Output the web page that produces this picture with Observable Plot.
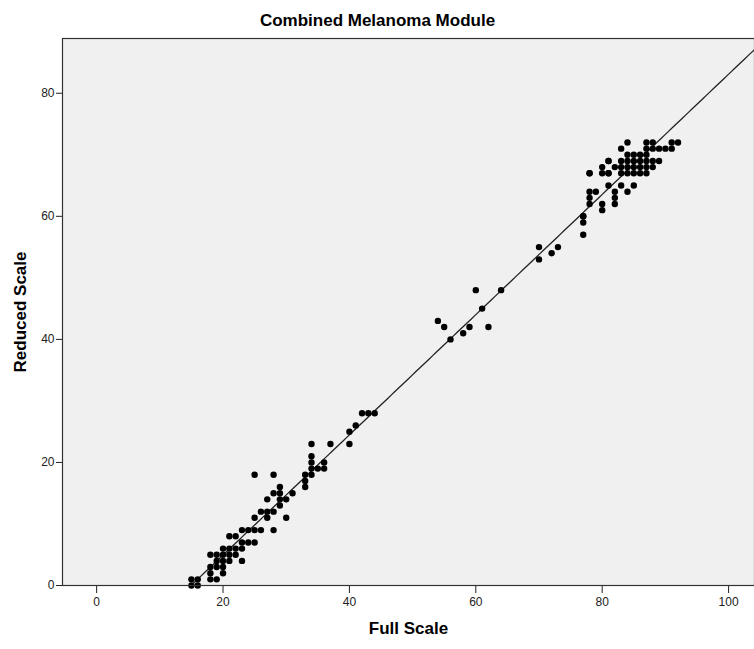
<!DOCTYPE html>
<html>
<head>
<meta charset="utf-8">
<script src="https://cdn.jsdelivr.net/npm/d3@7"></script>
<script src="https://cdn.jsdelivr.net/npm/@observablehq/plot@0.6"></script>
<style>
  html, body { margin: 0; padding: 0; background: #ffffff; }
  #chart svg { display: block; }
</style>
</head>
<body>
<div id="chart"></div>
<script>
const titleText = "Combined Melanoma Module";
const xLabel = "Full Scale";
const yLabel = "Reduced Scale";
const xTicks = [0, 20, 40, 60, 80, 100];
const yTicks = [0, 20, 40, 60, 80];

// Full Scale scores
const fullScale = [
  15, 15, 16, 16,
  18, 18, 18, 18,
  19, 19, 19, 19,
  20, 20, 20, 20, 20,
  21, 21, 21, 21,
  22, 22, 22,
  23, 23, 23, 23,
  24, 24,
  25, 25, 25, 25,
  26, 26,
  27, 27, 27,
  28, 28, 28, 28,
  29, 29, 29, 29,
  30, 30,
  31,
  33, 33, 33,
  34, 34, 34, 34, 34,
  35,
  36, 36,
  37,
  40, 40,
  41,
  42, 43, 44,
  54, 55, 56, 58, 59, 60, 61, 62, 64,
  70, 70, 72, 73,
  77, 77, 77, 77,
  78, 78, 78, 78, 78,
  79,
  80, 80, 80, 80,
  81, 81, 81, 81, 81,
  82, 82, 82, 82,
  83, 83, 83, 83, 83,
  84, 84, 84, 84, 84, 84,
  85, 85, 85, 85, 85,
  86, 86, 86, 86,
  87, 87, 87, 87, 87, 87,
  88, 88, 88, 88,
  89, 89,
  90, 91, 91, 92
];
// Reduced Scale scores (paired with fullScale)
const reducedScale = [
  0, 1, 0, 1,
  1, 2, 3, 5,
  1, 3, 4, 5,
  2, 3, 4, 5, 6,
  4, 5, 6, 8,
  5, 6, 8,
  4, 6, 7, 9,
  7, 9,
  7, 9, 11, 18,
  9, 12,
  11, 12, 14,
  9, 12, 15, 18,
  13, 14, 15, 16,
  11, 14,
  15,
  16, 17, 18,
  18, 19, 20, 21, 23,
  19,
  19, 20,
  23,
  23, 25,
  26,
  28, 28, 28,
  43, 42, 40, 41, 42, 48, 45, 42, 48,
  55, 53, 54, 55,
  57, 59, 60, 60,
  62, 63, 64, 67, 67,
  64,
  61, 62, 67, 68,
  65, 67, 69, 69, 67,
  62, 63, 64, 68,
  65, 67, 68, 69, 71,
  64, 67, 68, 69, 70, 72,
  65, 67, 68, 69, 70,
  67, 68, 69, 70,
  67, 68, 69, 70, 71, 72,
  68, 69, 71, 72,
  69, 71,
  71, 71, 72, 72
];

const data = fullScale.map((x, i) => ({x, y: reducedScale[i]}));

// least-squares fit line, computed from the data
const mx = d3.mean(fullScale), my = d3.mean(reducedScale);
const slope = d3.sum(data, d => (d.x - mx) * (d.y - my)) / d3.sum(data, d => (d.x - mx) ** 2);
const intercept = my - slope * mx;
const xDomain = [-5.4, 104.1];
const yDomain = [0, 88.9];
const fit = d3.range(xDomain[0], xDomain[1] + 0.01, (xDomain[1] - xDomain[0]) / 200)
  .map(x => ({x, y: intercept + slope * x}))
  .filter(d => d.y >= yDomain[0] - 0.5);

const chart = Plot.plot({
  width: 754,
  height: 649,
  marginTop: 38,
  marginLeft: 62,
  marginRight: 0,
  marginBottom: 64,
  style: {fontFamily: "Liberation Sans, Arial, sans-serif", fontSize: "12px", color: "#222", background: "#ffffff"},
  x: {domain: xDomain, ticks: xTicks, tickSize: 8, tickPadding: 4, label: null},
  y: {domain: yDomain, ticks: yTicks, tickSize: 6, tickPadding: 2, label: null},
  marks: [
    Plot.frame({fill: "#f0f0f0", stroke: null}),
    Plot.line(fit, {x: "x", y: "y", stroke: "#222", strokeWidth: 1.3, clip: true}),
    Plot.dot(data, {x: "x", y: "y", r: 3.2, fill: "#000", stroke: null}),
    Plot.frame({stroke: "#333", strokeWidth: 1.2}),
    Plot.text([titleText], {frameAnchor: "top", textAnchor: "middle", dx: -31, dy: -25, fontSize: 17, fontWeight: "bold", fill: "#000"}),
    Plot.text([xLabel], {frameAnchor: "bottom", textAnchor: "middle", dy: 48, fontSize: 17, fontWeight: "bold", fill: "#000"}),
    Plot.text([yLabel], {frameAnchor: "left", textAnchor: "middle", dx: -42, rotate: -90, fontSize: 17, fontWeight: "bold", fill: "#000"})
  ]
});
document.getElementById("chart").appendChild(chart);
</script>
</body>
</html>
